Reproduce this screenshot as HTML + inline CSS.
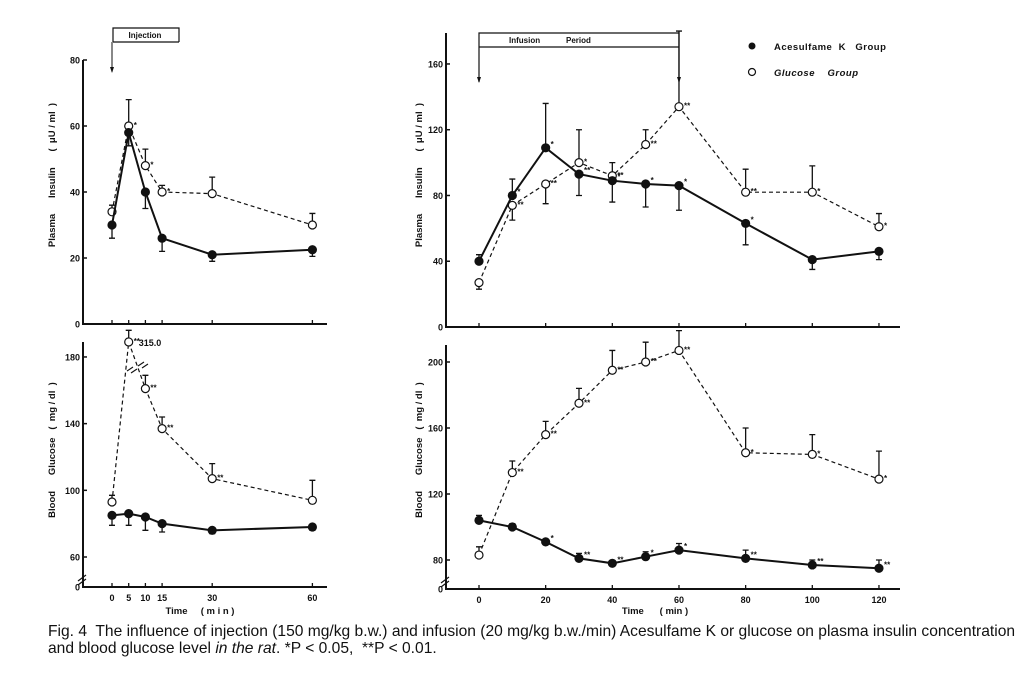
<!DOCTYPE html>
<html><head><meta charset="utf-8"><style>
body{margin:0;background:#fff;width:1032px;height:675px;overflow:hidden;font-family:"Liberation Sans",sans-serif}
svg{position:absolute;left:0;top:0}
svg text{white-space:pre}
.cap{position:absolute;left:48px;font-size:15.6px;color:#111;line-height:17px;white-space:nowrap}
</style></head><body>
<svg id="chart" width="1032" height="675" xmlns="http://www.w3.org/2000/svg" font-family="Liberation Sans, sans-serif" font-weight="bold" fill="#111"></svg>
<div class="cap" style="top:623px">Fig. 4&nbsp; The influence of injection (150 mg/kg b.w.) and infusion (20 mg/kg b.w./min) Acesulfame K or glucose on plasma insulin concentration<br>and blood glucose level <i>in the rat</i>. *P &lt; 0.05,&nbsp; **P &lt; 0.01.</div>
<script>
// ---- data ----
const injTimes=[0,5,10,15,30,60];
const injInsAK=[30,58,40,26,21,22.5];
const injInsAKerr=[-4,-4,-5,-4,-2,-2];
const injInsGl=[34,60,48,40,39.5,30];
const injInsGlerr=[2,8,5,2,5,3.5];
const injInsGlSig=["","*","*","*","",""];
const injGluAK=[85,86,84,80,76,78];
const injGluAKerr=[-6,-7,-8,-5,-2,-2];
const injGluGl=[93,189,161,137,107,94];
const injGluGlerr=[4,7,8,7,9,12];
const injGluGlSig=["","**","**","**","**",""];
const infTimes=[0,10,20,30,40,50,60,80,100,120];
const infInsAK=[40,80,109,93,89,87,86,63,41,46];
const infInsAKerr=[4,10,27,-13,-13,-14,-15,-13,-6,-5];
const infInsAKSig=["","*","*","**","*","*","*","*","",""];
const infInsGl=[27,74,87,100,92,111,134,82,82,61];
const infInsGlerr=[-4,-9,-12,20,8,9,46,14,16,8];
const infInsGlSig=["","**","**","*","**","**","**","**","*","*"];
const infGluAK=[104,100,91,81,78,82,86,81,77,75];
const infGluAKerr=[3,2,1,3,1,3,4,5,3,5];
const infGluAKSig=["","","*","**","**","*","*","**","**","**"];
const infGluGl=[83,133,156,175,195,200,207,145,144,129];
const infGluGlerr=[5,7,8,9,12,12,12,15,12,17];
const infGluGlSig=["","**","**","**","**","**","**","*","*","*"];
const injInsTicks=[0,20,40,60,80], injGluTicks=[60,100,140,180];
const infInsTicks=[0,40,80,120,160], infGluTicks=[80,120,160,200];
const infXTicks=[0,20,40,60,80,100,120];

const svg=document.getElementById('chart');
const NS='http://www.w3.org/2000/svg';
function el(tag,a,parent){const e=document.createElementNS(NS,tag);for(const k in a)e.setAttribute(k,a[k]);(parent||svg).appendChild(e);return e;}
function txt(s,x,y,a,parent){const t=el('text',Object.assign({x:x,y:y},a||{}),parent);t.textContent=s;return t;}

function panel(o){
  const g=el('g',{});
  
  
  const X=t=>o.x0+(t-o.t0)*o.xs;
  const Y=v=>o.yb+(v-o.v0)*o.ys;
  const ax=el('path',{d:`M${o.ax} ${o.top}V${o.axB}H${o.axR}`,stroke:'#111','stroke-width':2,fill:'none'},g);
  
  
  o.yticks.forEach(v=>{
    el('line',{x1:o.ax,x2:o.ax+4,y1:Y(v),y2:Y(v),stroke:'#111','stroke-width':1.5},g);
    const t=txt(String(v),o.ax-3,Y(v)+3.5,{'font-size':9,'text-anchor':'end'},g);
    
    
  });
  if(o.zero){txt('0',o.ax-3,o.axB+3.5,{'font-size':9,'text-anchor':'end'},g);}
  if(o.brk){el('path',{d:`M${o.ax-5} ${o.axB-6}l8 -6M${o.ax-5} ${o.axB-2}l8 -6`,stroke:'#111','stroke-width':1.2},g);}
  o.xt.forEach(t=>{el('line',{x1:X(t),x2:X(t),y1:o.axB,y2:o.axB-4,stroke:'#111','stroke-width':1.3},g);});
  if(o.xl){o.xl.forEach(t=>{const l=txt(String(t),X(t),o.axB+14,{'font-size':9,'text-anchor':'middle'},g);
    });}
  const yt=txt(o.ytitle,0,0,{'font-size':9.5,'text-anchor':'middle','transform':`translate(${o.ytx},${o.yty}) rotate(-90)`},g);
  
  
  o.series.forEach(s=>{
    const pts=s.v.map((v,i)=>[X(s.t[i]),Y(v)]);
    const ln=el('polyline',{points:pts.map(p=>p.join(',')).join(' '),fill:'none',stroke:'#111','stroke-width':s.open?1.2:2,'stroke-dasharray':s.open?'4 3':''},g);
    
    
    s.v.forEach((v,i)=>{
      const x=pts[i][0],y=pts[i][1],ye=Y(v+s.e[i]);
      const eb=el('path',{d:`M${x} ${y}V${ye}M${x-3} ${ye}H${x+3}`,stroke:'#111','stroke-width':1.3},g);
      
      
      const c=el('circle',{cx:x,cy:y,r:4,fill:s.open?'#fff':'#111',stroke:'#111','stroke-width':1.2},g);
      
      
      if(s.sig&&s.sig[i]){txt(s.sig[i],x+5,y+(s.open?2:-1),{'font-size':8},g);}
    });
  });
  return {X,Y,g};
}

const p1=panel({name:'injection-insulin-panel',x0:112,t0:0,xs:3.34,yb:324,v0:0,ys:-3.3,ax:83,top:60,axB:324,axR:327,
 yticks:injInsTicks,xt:injTimes,ytitle:'Plasma      Insulin      (  μU / ml  )',ytx:55,yty:175,
 series:[{name:'glucose-group',t:injTimes,v:injInsGl,e:injInsGlerr,sig:injInsGlSig,open:true},
         {name:'acesulfame-group',t:injTimes,v:injInsAK,e:injInsAKerr,open:false}]});
const p2=panel({name:'injection-glucose-panel',x0:112,t0:0,xs:3.34,yb:557,v0:60,ys:-1.667,ax:83,top:342,axB:587,axR:327,zero:true,brk:true,
 yticks:injGluTicks,xt:injTimes,xl:injTimes,ytitle:'Blood      Glucose   (  mg / dl  )',ytx:55,yty:450,
 series:[{name:'glucose-group',t:injTimes,v:injGluGl,e:injGluGlerr,sig:injGluGlSig,open:true},
         {name:'acesulfame-group',t:injTimes,v:injGluAK,e:injGluAKerr,open:false}]});
txt('315.0',p2.X(5)+10,p2.Y(189)+4,{'font-size':9});
el('path',{d:'M127 371l6 -4M131 373l6 -4M138 366l6 -4M142 368l6 -4',stroke:'#111','stroke-width':1.1});
const p3=panel({name:'infusion-insulin-panel',x0:479,t0:0,xs:3.333,yb:327,v0:0,ys:-1.644,ax:446,top:33,axB:327,axR:900,
 yticks:infInsTicks,xt:infXTicks,ytitle:'Plasma      Insulin      (  μU / ml  )',ytx:422,yty:175,
 series:[{name:'glucose-group',t:infTimes,v:infInsGl,e:infInsGlerr,sig:infInsGlSig,open:true},
         {name:'acesulfame-group',t:infTimes,v:infInsAK,e:infInsAKerr,sig:infInsAKSig,open:false}]});
const p4=panel({name:'infusion-glucose-panel',x0:479,t0:0,xs:3.333,yb:560,v0:80,ys:-1.65,ax:446,top:345,axB:589,axR:900,zero:true,brk:true,
 yticks:infGluTicks,xt:infXTicks,xl:infXTicks,ytitle:'Blood      Glucose   (  mg / dl  )',ytx:422,yty:450,
 series:[{name:'glucose-group',t:infTimes,v:infGluGl,e:infGluGlerr,sig:infGluGlSig,open:true},
         {name:'acesulfame-group',t:infTimes,v:infGluAK,e:infGluAKerr,sig:infGluAKSig,open:false}]});

[[200,'Time     ( m i n )'],[655,'Time      ( min )']].forEach(a=>{const t=txt(a[1],a[0],614,{'font-size':9.5,'text-anchor':'middle'});
 });

const inj=el('g',{});


el('path',{d:'M113 42V28H179V42M113 42H179',stroke:'#111','stroke-width':1.2,fill:'none'},inj);
el('path',{d:'M112 42V72',stroke:'#111','stroke-width':1},inj);
el('path',{d:'M110 67L112 73L114 67Z',fill:'#111'},inj);
txt('Injection',145,38,{'font-size':8,'text-anchor':'middle'},inj);
const inf=el('g',{});


el('path',{d:'M479 82V33H679V82M479 47H679',stroke:'#111','stroke-width':1.2,fill:'none'},inf);
el('path',{d:'M477 77L479 83L481 77ZM677 77L679 83L681 77Z',fill:'#111'},inf);
txt('Infusion',509,43,{'font-size':8},inf);
txt('Period',566,43,{'font-size':8},inf);
const lg=el('g',{});


el('circle',{cx:752,cy:46,r:3.5,fill:'#111'},lg);
txt('Acesulfame  K   Group',774,50,{'font-size':9.5,'letter-spacing':'0.5'},lg);
el('circle',{cx:752,cy:72,r:3.5,fill:'#fff',stroke:'#111','stroke-width':1.2},lg);
txt('Glucose    Group',774,76,{'font-size':9.5,'font-style':'italic','letter-spacing':'0.5'},lg);
</script>
</body></html>
